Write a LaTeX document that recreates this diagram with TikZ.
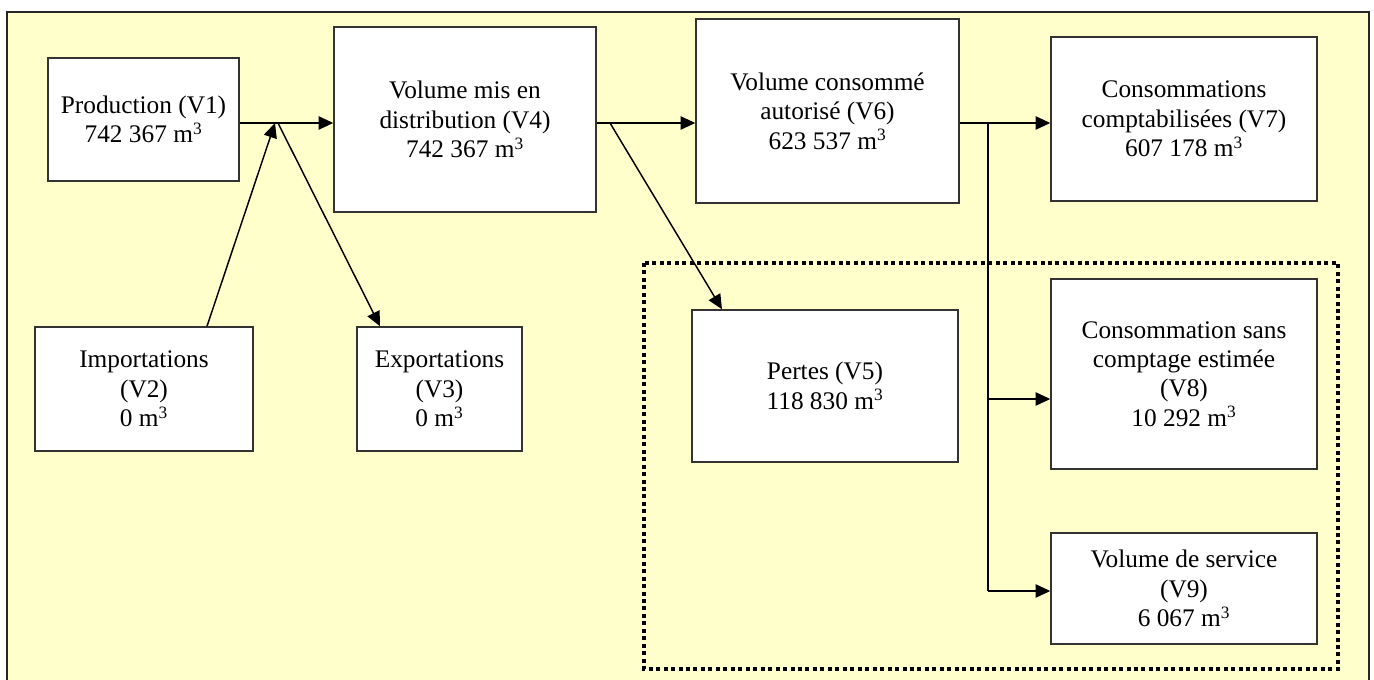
\documentclass[tikz,border=0pt]{standalone}
\usepackage{fontspec}
\setmainfont{Liberation Serif}
\usetikzlibrary{arrows.meta}
\definecolor{panel}{HTML}{FFFFCC}
\definecolor{edge}{HTML}{333333}
\tikzset{
  vbox/.style={draw=edge, fill=white, line width=1.1pt, align=center, inner sep=0pt,
    font=\fontsize{19}{22}\selectfont},
  flow/.style={line width=1.1pt, -{Triangle[length=11pt,width=10pt]}},
  link/.style={line width=1.1pt},
  group/.style={line width=3pt, dash pattern=on 3pt off 2.6pt},
}
\newcommand{\mcube}{m\textsuperscript{\fontsize{13}{13}\selectfont 3}}
\begin{document}
\begin{tikzpicture}[x=0.75pt, y=-0.75pt]
\useasboundingbox (0,0) rectangle (1374,680);
\fill[white] (0,0) rectangle (1374,680);
% yellow panel and its frame
\fill[panel] (7,12) rectangle (1369,680);
\draw[line width=1.6pt, draw=black!85] (7,690) -- (7,12) -- (1369,12) -- (1369,690);

% group of the loss and unbilled volumes
\draw[group] (644,263) rectangle (1338,669);

% volume boxes
\node[vbox, minimum width=143.25pt, minimum height=92.25pt] (V1) at (143.5,119.5)
  {Production (V1)\\742 367 \mcube};
\node[vbox, minimum width=196.5pt, minimum height=138.75pt] (V4) at (465,119.5)
  {Volume mis en\\distribution (V4)\\742 367 \mcube};
\node[vbox, minimum width=197.25pt, minimum height=138pt] (V6) at (827.5,111)
  {Volume consommé\\autorisé (V6)\\623 537 \mcube};
\node[vbox, minimum width=199.5pt, minimum height=123pt] (V7) at (1184,119)
  {Consommations\\comptabilisées (V7)\\607 178 \mcube};
\node[vbox, minimum width=163.5pt, minimum height=93pt] (V2) at (144,389)
  {Importations\\(V2)\\0 \mcube};
\node[vbox, minimum width=123.75pt, minimum height=93pt] (V3) at (439.5,389)
  {Exportations\\(V3)\\0 \mcube};
\node[vbox, minimum width=199.5pt, minimum height=114pt] (V5) at (825,386)
  {Pertes (V5)\\118 830 \mcube};
\node[vbox, minimum width=199.5pt, minimum height=142.5pt] (V8) at (1184,374)
  {Consommation sans\\comptage estimée\\(V8)\\10 292 \mcube};
\node[vbox, minimum width=199.5pt, minimum height=83.25pt] (V9) at (1184,588.5)
  {Volume de service\\(V9)\\6 067 \mcube};

% junction and branch points
\coordinate (jin)  at (275,123);
\coordinate (jout) at (278,123);
\coordinate (impTop) at ([xshift=47.25pt]V2.north);
\coordinate (expTop) at ([xshift=-44.6pt]V3.north);
\coordinate (loss) at (610,123);
\coordinate (lossTop) at ([xshift=-77.25pt]V5.north);
\coordinate (split) at (988,123);
\coordinate (splitEnd) at (988,591);

% connectors
\draw[flow] (V1.east |- jin) -- (V4.west |- jin);
\draw[flow] (impTop) -- (jin);
\draw[flow] (jout) -- (expTop);
\draw[flow] (V4.east |- jin) -- (V6.west |- jin);
\draw[flow] (loss) -- (lossTop);
\draw[flow] (V6.east |- jin) -- (V7.west |- jin);
\draw[link] (split) -- (splitEnd);
\draw[flow] (split |- 0,399) -- (V8.west |- 0,399);
\draw[flow] (splitEnd) -- (V9.west |- splitEnd);
\end{tikzpicture}
\end{document}
